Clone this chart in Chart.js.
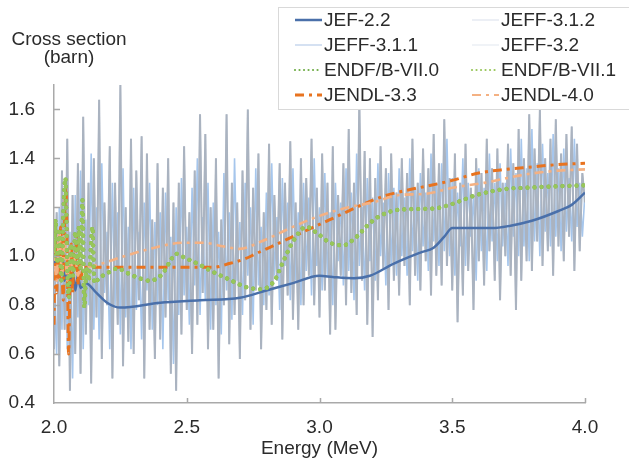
<!DOCTYPE html>
<html>
<head>
<meta charset="utf-8">
<script src="https://cdn.jsdelivr.net/npm/chart.js@4/dist/chart.umd.min.js"></script>
<style>
  html, body { margin: 0; padding: 0; background: #ffffff; }
  #c { display: block; }
</style>
</head>
<body>
<canvas id="c" width="629" height="459"></canvas>
<script>
// ---------------- DATA ----------------
const X_TICKS = [2.0, 2.5, 3.0, 3.5, 4.0];
const Y_TICKS = [0.4, 0.6, 0.8, 1.0, 1.2, 1.4, 1.6];
const X_TITLE = 'Energy (MeV)';
const Y_TITLE_LINES = ['Cross section', '(barn)'];

const SERIES_LABELS = ['JEF-2.2', 'JEFF-3.1.2', 'JEFF-3.1.1', 'JEFF-3.2',
                       'ENDF/B-VII.0', 'ENDF/B-VII.1', 'JENDL-3.3', 'JENDL-4.0'];

// energy grid of the resonance-rich evaluations (2.00 ... 4.00 MeV, every 0.01 MeV)
const noiseEnergy = Array.from({length: 201}, (_, i) => +(2 + i * 0.01).toFixed(2));

const jeff312 = [
  0.62,1.18,0.55,1.35,0.70,1.48,0.45,1.25,0.60,1.38,
  0.52,1.57,0.68,1.30,0.48,1.40,0.75,1.64,0.58,1.22,
  0.80,1.45,0.50,1.30,0.72,1.70,0.55,1.20,0.65,1.48,
  0.60,1.35,0.82,1.49,0.50,1.42,0.70,1.15,0.58,1.38,
  0.66,1.28,0.75,1.40,0.52,1.22,0.45,1.30,0.68,1.45,
  0.78,1.18,0.60,1.35,0.72,1.58,0.85,1.50,0.62,1.20,
  0.70,1.40,0.50,1.15,0.80,1.58,0.64,1.30,0.76,1.22,
  0.58,1.35,0.82,1.60,0.70,1.28,0.86,1.42,0.62,1.18,
  0.78,1.46,0.72,1.25,0.90,1.38,0.66,1.30,0.84,1.47,
  0.74,1.22,0.70,1.40,0.80,1.32,0.92,1.48,0.80,1.28,
  0.75,1.42,0.86,1.30,0.68,1.45,0.70,1.25,0.92,1.38,
  0.80,1.52,0.85,1.30,0.76,1.64,0.90,1.43,0.72,1.40,
  0.67,1.32,0.82,1.45,0.95,1.36,0.78,1.42,0.90,1.26,
  0.84,1.40,0.96,1.34,0.80,1.48,0.92,1.30,0.86,1.44,
  0.98,1.36,0.84,1.50,0.92,1.38,0.88,1.56,0.96,1.32,
  0.86,1.42,0.73,1.30,0.84,1.46,0.94,1.28,0.78,1.40,
  0.98,1.34,0.88,1.48,1.02,1.36,0.90,1.44,0.82,1.30,
  1.00,1.46,0.92,1.38,0.78,1.52,0.90,1.40,0.98,1.58,
  0.94,1.44,1.06,1.60,0.96,1.40,1.02,1.48,0.92,1.56,
  1.04,1.42,0.98,1.50,1.08,1.53,0.94,1.46,1.02,1.34,
  1.22
];

const jeff311 = [
  0.90,0.60,1.20,0.70,1.30,0.62,1.10,0.50,1.25,0.75,
  1.35,0.62,1.15,0.80,1.42,0.70,1.20,0.66,1.38,0.85,
  1.10,0.62,1.30,0.80,1.18,0.68,1.36,0.75,1.12,0.62,
  1.28,0.78,1.10,0.66,1.22,0.86,1.30,0.70,1.14,0.80,
  1.18,0.62,1.26,0.82,1.08,0.56,1.20,0.76,1.32,0.84,
  1.12,0.72,1.28,0.88,1.40,0.76,1.16,0.82,1.30,0.70,
  1.22,0.80,1.10,0.68,1.34,0.86,1.18,0.74,1.40,0.90,
  1.14,0.76,1.30,0.92,1.20,0.72,1.36,0.88,1.12,0.80,
  1.26,0.84,1.38,0.92,1.16,0.78,1.32,0.96,1.22,0.82,
  1.36,0.90,1.18,0.80,1.30,0.94,1.24,0.84,1.40,0.96,
  1.20,0.86,1.34,0.92,1.18,0.80,1.30,0.98,1.22,0.88,
  1.36,0.94,1.26,0.82,1.42,0.96,1.20,0.86,1.32,0.98,
  1.24,0.90,1.38,1.00,1.22,0.88,1.34,0.96,1.28,0.92,
  1.36,1.00,1.24,0.92,1.40,1.02,1.28,0.90,1.34,1.04,
  1.26,0.94,1.42,1.06,1.30,0.96,1.38,1.02,1.48,1.00,
  1.32,0.92,1.26,1.04,1.40,0.96,1.30,1.08,1.24,0.90,
  1.36,1.02,1.28,0.94,1.42,1.06,1.30,0.98,1.38,1.04,
  1.30,0.96,1.44,1.08,1.34,1.00,1.48,1.04,1.36,0.98,
  1.52,1.06,1.38,1.00,1.46,1.10,1.34,1.04,1.50,1.08,
  1.36,1.02,1.44,1.10,1.32,1.06,1.48,1.12,1.30,1.08,
  1.26
];

const jeff32 = jeff312;

const jef22E = [2.00,2.01,2.02,2.03,2.04,2.05,2.06,2.07,2.08,2.09,2.10,2.12,2.16,2.20,2.25,2.40,2.55,2.70,2.80,2.90,3.00,3.05,3.13,3.19,3.28,3.38,3.43,3.47,3.50,3.65,3.72,3.80,3.90,3.95,4.00];
const jef22V = [0.95,1.00,0.92,1.02,0.90,0.97,0.88,0.94,0.86,0.92,0.87,0.89,0.85,0.81,0.79,0.81,0.82,0.83,0.86,0.89,0.92,0.915,0.91,0.92,0.97,1.015,1.035,1.08,1.115,1.115,1.125,1.145,1.185,1.21,1.26];

const endf70E = [2.000,2.006,2.012,2.020,2.028,2.036,2.043,2.050,2.056,2.064,2.072,2.080,2.088,2.094,2.100,2.107,2.114,2.122,2.130,2.145,2.152,2.170,2.20,2.24,2.27,2.31,2.36,2.41,2.44,2.46,2.49,2.54,2.61,2.66,2.72,2.78,2.83,2.86,2.90,2.95,2.99,3.04,3.09,3.14,3.18,3.22,3.30,3.43,3.49,3.54,3.59,3.70,3.78,3.87,4.00];
const endf70V = [1.00,1.15,0.97,1.10,0.90,1.20,1.32,0.95,0.83,1.05,0.92,1.10,0.97,1.12,0.95,1.23,0.79,0.95,0.90,1.12,0.89,0.91,0.93,0.95,0.935,0.915,0.90,0.93,0.985,1.01,0.995,0.97,0.93,0.905,0.875,0.865,0.90,0.97,1.06,1.12,1.095,1.055,1.045,1.08,1.125,1.16,1.19,1.195,1.21,1.23,1.25,1.275,1.28,1.285,1.29];
const endf71E = endf70E;
const endf71V = endf70V;

const jendl33E = [2.000,2.005,2.010,2.015,2.020,2.025,2.030,2.035,2.040,2.045,2.050,2.055,2.060,2.065,2.070,2.075,2.080,2.085,2.090,2.095,2.100,2.110,2.60,2.66,2.72,2.76,2.84,2.92,3.00,3.08,3.16,3.24,3.33,3.42,3.50,3.60,3.70,3.80,3.90,4.00];
const jendl33V = [0.72,1.10,0.85,1.05,0.90,1.12,0.95,0.82,1.15,1.28,1.00,0.60,0.90,1.05,0.85,1.02,0.95,1.08,0.88,0.98,0.90,0.955,0.955,0.97,0.99,1.01,1.05,1.09,1.13,1.17,1.21,1.245,1.27,1.29,1.31,1.34,1.355,1.365,1.375,1.38];

const jendl40E = [2.00,2.01,2.02,2.03,2.04,2.05,2.06,2.07,2.08,2.09,2.10,2.11,2.18,2.25,2.36,2.49,2.56,2.64,2.70,2.78,2.90,3.00,3.11,3.20,3.30,3.40,3.50,3.62,3.78,3.90,4.00];
const jendl40V = [1.05,0.90,1.10,0.92,1.08,0.90,1.04,0.93,1.00,0.92,0.96,0.955,0.97,0.995,1.03,1.055,1.055,1.04,1.03,1.06,1.12,1.165,1.20,1.22,1.25,1.255,1.28,1.30,1.335,1.35,1.355];

// ---------------- CHART ----------------
const FONT = '"Liberation Sans", Arial, sans-serif';
const TEXT_COLOR = '#2b2b2b';
const AXIS_COLOR = '#a9a9a9';

function pts(xs, ys) { return xs.map((x, i) => ({x: x, y: ys[i]})); }

const datasets = [
  { label: SERIES_LABELS[0], data: pts(jef22E, jef22V), borderColor: '#4a70aa', borderWidth: 2.5,
    cubicInterpolationMode: 'monotone', order: 5, legendWidth: 2.5 },
  { label: SERIES_LABELS[1], data: pts(noiseEnergy, jeff312), borderColor: '#aab3c0', borderWidth: 2,
    tension: 0, order: 6, legendColor: '#dfe5ee', legendWidth: 1.2 },
  { label: SERIES_LABELS[2], data: pts(noiseEnergy, jeff311), borderColor: '#a6c6ec', borderWidth: 1.6,
    tension: 0, order: 7, legendColor: '#c7d7ee', legendWidth: 1.5 },
  { label: SERIES_LABELS[3], data: pts(noiseEnergy, jeff32), borderColor: '#c8d0dc', borderWidth: 1.5,
    tension: 0, order: 8, legendColor: '#e6ebf2', legendWidth: 1.2 },
  { label: SERIES_LABELS[4], data: pts(endf70E, endf70V), borderColor: '#70ad47', borderWidth: 4.2,
    borderDash: [0.01, 7], borderCapStyle: 'round', cubicInterpolationMode: 'monotone', order: 2,
    legendWidth: 2.2, legendDash: [0.01, 4.5] },
  { label: SERIES_LABELS[5], data: pts(endf71E, endf71V), borderColor: '#98c65a', borderWidth: 4.2,
    borderDash: [0.01, 7], borderCapStyle: 'round', cubicInterpolationMode: 'monotone', order: 1,
    legendWidth: 2.2, legendDash: [0.01, 4.5] },
  { label: SERIES_LABELS[6], data: pts(jendl33E, jendl33V), borderColor: '#e8731f', borderWidth: 3,
    borderDash: [9, 5, 3, 5], cubicInterpolationMode: 'monotone', order: 4, legendWidth: 3 },
  { label: SERIES_LABELS[7], data: pts(jendl40E, jendl40V), borderColor: '#f4b183', borderWidth: 2.6,
    borderDash: [9, 5, 3, 5], cubicInterpolationMode: 'monotone', order: 3, legendWidth: 2.2 }
];

const decorPlugin = {
  id: 'decor',
  afterDraw(chart) {
    const ctx = chart.ctx;
    const xs = chart.scales.x, ys = chart.scales.y;
    const area = chart.chartArea;
    ctx.save();
    // inside tick marks
    ctx.strokeStyle = AXIS_COLOR;
    ctx.lineWidth = 1.5;
    ctx.setLineDash([]);
    ctx.beginPath();
    X_TICKS.slice(1).forEach(v => {
      const px = Math.round(xs.getPixelForValue(v)) + 0.5;
      ctx.moveTo(px, area.bottom);
      ctx.lineTo(px, area.bottom - 5);
    });
    Y_TICKS.slice(1).forEach(v => {
      const py = Math.round(ys.getPixelForValue(v)) + 0.5;
      ctx.moveTo(area.left, py);
      ctx.lineTo(area.left + 6, py);
    });
    ctx.stroke();

    // y title block (horizontal, above the axis)
    ctx.fillStyle = TEXT_COLOR;
    ctx.font = '19px ' + FONT;
    ctx.textAlign = 'center';
    ctx.textBaseline = 'alphabetic';
    ctx.fillText(Y_TITLE_LINES[0], 69, 45);
    ctx.fillText(Y_TITLE_LINES[1], 69, 63);

    // legend box
    ctx.fillStyle = '#ffffff';
    ctx.fillRect(278.5, 7.5, 360, 102);
    ctx.strokeStyle = '#d9d9d9';
    ctx.lineWidth = 1;
    ctx.strokeRect(278.5, 7.5, 360, 102);
    chart.data.datasets.forEach((ds, i) => {
      const col = i % 2, row = Math.floor(i / 2);
      const x0 = col ? 472 : 295;
      const y = 20 + row * 25;
      ctx.strokeStyle = ds.legendColor || ds.borderColor;
      ctx.lineWidth = ds.legendWidth || ds.borderWidth;
      ctx.lineCap = ds.borderCapStyle || 'butt';
      ctx.setLineDash(ds.legendDash || ds.borderDash || []);
      ctx.beginPath();
      ctx.moveTo(x0, y);
      ctx.lineTo(x0 + 27, y);
      ctx.stroke();
      ctx.setLineDash([]);
      ctx.fillStyle = TEXT_COLOR;
      ctx.textAlign = 'left';
      ctx.textBaseline = 'middle';
      ctx.fillText(ds.label, x0 + 29, y + 1);
    });
    ctx.restore();
  }
};

new Chart(document.getElementById('c'), {
  type: 'line',
  data: { datasets: datasets },
  options: {
    responsive: false,
    animation: false,
    events: [],
    devicePixelRatio: 1,
    layout: { padding: { left: 0, top: 85, right: 44, bottom: 0 } },
    elements: { point: { radius: 0 }, line: { fill: false } },
    plugins: { legend: { display: false }, tooltip: { enabled: false }, title: { display: false } },
    scales: {
      x: {
        type: 'linear', min: 2, max: 4,
        afterFit: s => { s.height = 56; },
        afterBuildTicks: s => { s.ticks = X_TICKS.map(v => ({value: v})); },
        grid: { display: false, drawTicks: false },
        border: { display: true, color: AXIS_COLOR, width: 1.5 },
        ticks: { padding: 13, maxRotation: 0, autoSkip: false, color: TEXT_COLOR,
                 font: { family: FONT, size: 19 }, callback: v => Number(v).toFixed(1) },
        title: { display: true, text: X_TITLE, color: TEXT_COLOR, font: { family: FONT, size: 19 },
                 padding: { top: 0, bottom: -1 } }
      },
      y: {
        type: 'linear', min: 0.4, max: 1.7,
        afterFit: s => { s.width = 54; },
        afterBuildTicks: s => { s.ticks = Y_TICKS.map(v => ({value: v})); },
        grid: { display: false, drawTicks: false },
        border: { display: true, color: AXIS_COLOR, width: 1.5 },
        ticks: { padding: 19, color: TEXT_COLOR, font: { family: FONT, size: 19 },
                 callback: v => Number(v).toFixed(1) }
      }
    }
  },
  plugins: [decorPlugin]
});
</script>
</body>
</html>
